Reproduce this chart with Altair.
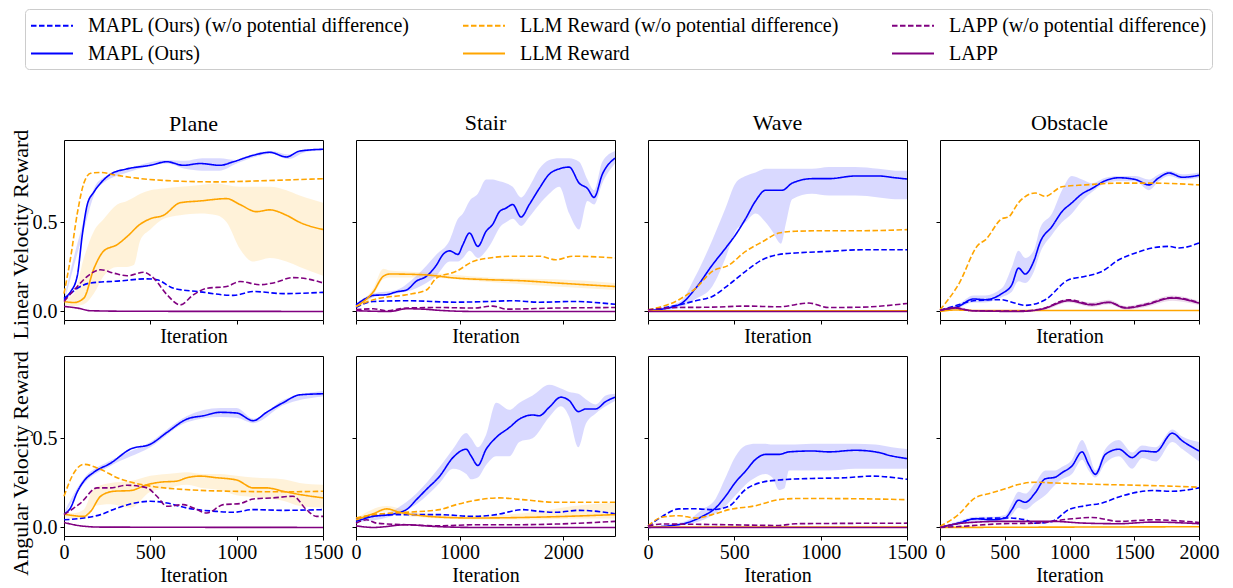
import altair as alt
import pandas as pd

SERIF = "Liberation Serif"

S_MAPLW = "MAPL (Ours) (w/o potential difference)"
S_LLMW = "LLM Reward (w/o potential difference)"
S_LAPPW = "LAPP (w/o potential difference)"
S_MAPL = "MAPL (Ours)"
S_LLM = "LLM Reward"
S_LAPP = "LAPP"
# legend fills column by column (2 rows x 3 columns)
SERIES = [S_MAPLW, S_MAPL, S_LLMW, S_LLM, S_LAPPW, S_LAPP]
COLORS = ["#0000ff", "#0000ff", "#ffa500", "#ffa500", "#800080", "#800080"]
DASHES = [[5.5, 2.5], [1, 0], [5.5, 2.5], [1, 0], [5.5, 2.5], [1, 0]]
BAND_COLOR = {S_MAPL: "#0000ff", S_LLM: "#ffa500", S_LAPP: "#800080"}

ENVS = ["Plane", "Stair", "Wave", "Obstacle"]
X_MAX = {"Plane": 1500, "Stair": 2500, "Wave": 1500, "Obstacle": 2000}
X_TICKS = {"Plane": [0, 500, 1000, 1500], "Stair": [0, 1000, 2000],
           "Wave": [0, 500, 1000, 1500], "Obstacle": [0, 500, 1000, 1500, 2000]}
Y_TICKS = [0.0, 0.5]
ROW_TITLES = ["Linear Velocity Reward", "Angular Velocity Reward"]

# ---------------- Linear velocity reward (top row) ----------------
LIN_PLANE_MAPL = [(0, .075), (38, .11), (77, .20), (106, .43), (135, .60), (173, .67), (212, .72), (269, .77),
                  (365, .80), (500, .82), (596, .84), (692, .82), (788, .83), (904, .82), (981, .84),
                  (1096, .876), (1192, .893), (1288, .867), (1365, .90), (1500, .91)]
LIN_PLANE_MAPL_BAND = [(0, .05, .07), (100, .40, .46), (200, .70, .73), (400, .79, .81), (600, .83, .85),
                       (700, .80, .845), (800, .79, .86), (900, .79, .86), (1000, .83, .85),
                       (1100, .865, .885), (1200, .885, .90), (1300, .855, .88), (1400, .895, .91),
                       (1500, .905, .915)]
LIN_PLANE_LLMW = [(0, .10), (38, .30), (77, .55), (115, .72), (154, .775), (212, .78), (300, .765),
                  (404, .75), (596, .734), (885, .727), (1173, .734), (1500, .745)]
LIN_PLANE_LLM = [(0, .056), (58, .05), (115, .075), (173, .24), (231, .34), (308, .375), (365, .42),
                 (442, .49), (500, .52), (577, .54), (673, .61), (788, .62), (942, .633), (1019, .60),
                 (1115, .56), (1192, .57), (1288, .54), (1365, .50), (1500, .46)]
LIN_PLANE_LLM_BAND = [(0, .04, .07), (58, .03, .10), (115, .04, .30), (173, .10, .45), (231, .20, .52),
                      (308, .25, .60), (365, .25, .62), (404, .26, .64), (442, .40, .66), (500, .46, .68),
                      (577, .52, .69), (673, .54, .70), (788, .55, .71), (885, .54, .72), (942, .50, .71),
                      (1019, .35, .70), (1096, .28, .70), (1192, .30, .70), (1288, .28, .68),
                      (1365, .25, .65), (1500, .20, .61)]
LIN_PLANE_LAPPW = [(0, .056), (77, .14), (135, .197), (212, .234), (288, .215), (365, .20), (462, .22),
                   (519, .187), (596, .094), (673, .037), (750, .094), (827, .13), (942, .14),
                   (1019, .168), (1135, .15), (1212, .16), (1327, .19), (1423, .18), (1500, .16)]
LIN_PLANE_MAPLW = [(0, .066), (77, .13), (154, .16), (308, .17), (481, .183), (538, .178), (635, .13),
                   (788, .11), (981, .09), (1096, .112), (1269, .10), (1500, .107)]
LIN_PLANE_LAPP = [(0, .028), (77, .019), (154, .004), (400, .001), (1500, 0)]

LIN_STAIR_MAPL = [(0, .037), (103, .075), (167, .09), (295, .094), (391, .11), (487, .12), (583, .17),
                  (679, .197), (776, .26), (840, .32), (904, .34), (984, .32), (1032, .375), (1096, .44),
                  (1176, .365), (1256, .45), (1321, .49), (1385, .56), (1449, .58), (1513, .60),
                  (1593, .53), (1673, .60), (1769, .69), (1865, .77), (1962, .80), (2058, .81),
                  (2154, .72), (2234, .69), (2298, .64), (2378, .77), (2500, .86)]
LIN_STAIR_MAPL_BAND = [(0, .03, .045), (167, .08, .10), (391, .10, .12), (583, .13, .20), (776, .20, .32),
                       (904, .28, .40), (984, .28, .52), (1032, .30, .55), (1096, .34, .62),
                       (1176, .30, .66), (1256, .34, .74), (1321, .40, .74), (1385, .47, .73),
                       (1449, .50, .72), (1513, .52, .70), (1593, .48, .64), (1673, .53, .70),
                       (1769, .60, .80), (1865, .66, .85), (1962, .70, .86), (2058, .55, .86),
                       (2154, .46, .84), (2234, .62, .74), (2298, .60, .68), (2378, .72, .84),
                       (2500, .83, .90)]
LIN_STAIR_LLM = [(0, .028), (167, .11), (263, .197), (327, .21), (647, .206), (968, .187), (1288, .178),
                 (1609, .172), (1929, .16), (2500, .14)]
LIN_STAIR_LLM_BAND = [(0, .02, .04), (167, .09, .13), (263, .18, .24), (327, .19, .23), (647, .19, .22),
                      (1288, .165, .19), (1929, .14, .18), (2500, .12, .16)]
LIN_STAIR_LLMW = [(0, .028), (167, .066), (487, .094), (679, .12), (776, .187), (968, .225), (1128, .28),
                  (1288, .30), (1513, .31), (1769, .31), (1929, .29), (2090, .31), (2500, .30)]
LIN_STAIR_MAPLW = [(0, .022), (167, .056), (487, .06), (968, .052), (1288, .056), (1513, .06),
                   (1769, .052), (2090, .056), (2500, .04)]
LIN_STAIR_LAPPW = [(0, .01), (167, .015), (295, .004), (487, .019), (808, .022), (1128, .019),
                   (1321, .03), (1449, .013), (1929, .019), (2500, .022)]
LIN_STAIR_LAPP = [(0, .004), (327, 0), (487, .015), (647, .013), (808, .006), (1128, 0), (2500, 0)]

LIN_WAVE_MAPL = [(0, .004), (179, .037), (276, .13), (372, .26), (449, .355), (507, .43), (565, .52),
                 (623, .62), (681, .68), (777, .68), (835, .72), (950, .745), (1047, .745), (1201, .76),
                 (1336, .76), (1432, .75), (1500, .743)]
LIN_WAVE_MAPL_BAND = [(0, 0, .01), (179, .02, .05), (276, .07, .20), (372, .14, .40), (449, .30, .58),
                      (507, .45, .72), (565, .50, .76), (623, .55, .78), (681, .50, .80), (720, .45, .80),
                      (770, .38, .80), (800, .50, .80), (835, .63, .80), (950, .66, .80), (1047, .65, .81),
                      (1201, .65, .81), (1336, .64, .80), (1432, .63, .79), (1500, .63, .79)]
LIN_WAVE_LLMW = [(0, .009), (179, .066), (276, .13), (372, .225), (468, .26), (565, .337), (661, .39),
                 (758, .44), (854, .45), (1047, .453), (1240, .453), (1500, .459)]
LIN_WAVE_MAPLW = [(0, .006), (179, .037), (276, .06), (372, .084), (468, .15), (565, .225), (661, .29),
                  (758, .32), (854, .328), (1047, .337), (1240, .346), (1500, .346)]
LIN_WAVE_LAPPW = [(0, .009), (179, .022), (372, .024), (565, .03), (758, .026), (931, .047),
                  (1047, .022), (1240, .024), (1500, .045)]
LIN_WAVE_LLM = [(0, .003), (1500, .003)]
LIN_WAVE_LAPP = [(0, 0), (1500, 0)]

LIN_OBST_MAPL = [(0, .004), (142, .028), (258, .07), (348, .066), (477, .10), (555, .15), (606, .243),
                 (658, .21), (723, .28), (774, .39), (865, .477), (942, .56), (1019, .61), (1097, .66),
                 (1174, .69), (1277, .734), (1381, .75), (1510, .74), (1613, .71), (1690, .75),
                 (1768, .777), (1871, .753), (2000, .764)]
LIN_OBST_MAPL_BAND = [(0, 0, .01), (142, .02, .04), (258, .05, .09), (348, .05, .09), (477, .08, .13),
                      (555, .11, .25), (606, .17, .34), (658, .16, .30), (723, .22, .34), (774, .33, .47),
                      (865, .43, .55), (942, .50, .68), (1019, .55, .76), (1097, .62, .74),
                      (1174, .67, .72), (1277, .72, .75), (1381, .73, .76), (1510, .73, .76),
                      (1613, .68, .74), (1690, .73, .77), (1768, .76, .79), (1871, .74, .77),
                      (2000, .75, .78)]
LIN_OBST_LLMW = [(0, .009), (142, .15), (297, .375), (348, .40), (477, .52), (529, .53), (606, .61),
                 (735, .665), (813, .646), (942, .70), (1123, .71), (1381, .72), (1639, .72), (2000, .71)]
LIN_OBST_MAPLW = [(0, .006), (142, .037), (258, .06), (477, .066), (555, .052), (658, .034), (813, .066),
                  (994, .178), (1123, .197), (1252, .225), (1381, .29), (1510, .328), (1639, .356),
                  (1768, .365), (1845, .356), (2000, .384)]
LIN_OBST_LAPP = [(0, .006), (116, .019), (245, .004), (606, 0), (787, .013), (994, .06), (1174, .037),
                 (1303, .052), (1432, .019), (1587, .037), (1794, .075), (2000, .047)]
LIN_OBST_LAPP_BAND = [(0, 0, .01), (116, .01, .03), (245, 0, .01), (606, 0, .005), (787, .005, .02),
                      (994, .05, .07), (1174, .025, .05), (1303, .04, .065), (1432, .01, .03),
                      (1587, .025, .05), (1794, .06, .09), (2000, .035, .06)]
LIN_OBST_LAPPW = [(0, .006), (116, .02), (245, .004), (606, .002), (787, .015), (994, .066), (1174, .04),
                  (1303, .05), (1432, .022), (1587, .04), (1794, .078), (2000, .05)]
LIN_OBST_LLM = [(0, 0), (116, .008), (300, .005), (2000, .005)]

# ---------------- Angular velocity reward (bottom row) ----------------
ANG_PLANE_MAPL = [(0, .075), (38, .11), (77, .20), (115, .26), (173, .31), (269, .36), (385, .44),
                  (500, .467), (596, .533), (712, .608), (808, .627), (904, .646), (1000, .642),
                  (1096, .599), (1173, .646), (1269, .70), (1365, .744), (1500, .75)]
ANG_PLANE_MAPL_BAND = [(0, .065, .085), (115, .245, .275), (269, .345, .375), (500, .45, .48),
                       (712, .59, .625), (904, .62, .67), (1000, .615, .67), (1096, .585, .61),
                       (1269, .685, .715), (1500, .735, .765)]
ANG_PLANE_LLMW = [(0, .175), (58, .307), (115, .354), (212, .326), (308, .279), (404, .25), (500, .232),
                  (692, .213), (981, .203), (1269, .20), (1500, .203)]
ANG_PLANE_LLM = [(0, .075), (115, .062), (154, .09), (212, .175), (288, .203), (385, .207), (481, .24),
                 (558, .254), (654, .26), (712, .279), (788, .288), (885, .279), (1000, .266),
                 (1096, .222), (1173, .222), (1269, .203), (1365, .185), (1500, .166)]
ANG_PLANE_LLM_BAND = [(0, .06, .09), (58, .05, .08), (115, .05, .10), (173, .12, .22), (269, .13, .25),
                      (385, .11, .26), (500, .20, .29), (596, .22, .30), (712, .24, .31), (808, .22, .30),
                      (904, .21, .30), (1000, .18, .29), (1096, .17, .28), (1269, .15, .27),
                      (1365, .12, .25), (1500, .11, .24)]
ANG_PLANE_LAPPW = [(0, .072), (96, .137), (192, .222), (269, .222), (365, .237), (481, .222), (538, .175),
                   (596, .119), (692, .128), (750, .109), (827, .081), (923, .128), (1019, .134),
                   (1096, .16), (1212, .166), (1327, .175), (1404, .10), (1462, .062), (1500, .062)]
ANG_PLANE_MAPLW = [(0, .043), (115, .053), (212, .072), (308, .109), (500, .147), (596, .137), (712, .109),
                   (885, .09), (981, .085), (1096, .10), (1269, .096), (1500, .10)]
ANG_PLANE_LAPP = [(0, .028), (96, .009), (212, .002), (1500, 0)]

ANG_STAIR_MAPL = [(0, .034), (167, .062), (327, .072), (487, .10), (583, .156), (679, .213), (808, .288),
                  (936, .392), (1064, .439), (1112, .40), (1176, .348), (1256, .439), (1353, .505),
                  (1481, .561), (1577, .608), (1705, .631), (1769, .627), (1865, .674), (1978, .731),
                  (2058, .712), (2147, .65), (2218, .665), (2314, .665), (2410, .706), (2500, .731)]
ANG_STAIR_MAPL_BAND = [(0, .03, .04), (327, .06, .085), (583, .13, .19), (808, .25, .34), (936, .33, .44),
                       (1064, .30, .53), (1112, .27, .50), (1176, .28, .45), (1256, .35, .52),
                       (1353, .40, .70), (1481, .40, .66), (1577, .48, .70), (1705, .50, .74),
                       (1865, .62, .80), (1978, .68, .78), (2058, .62, .76), (2147, .45, .75),
                       (2218, .58, .72), (2314, .64, .69), (2410, .68, .74), (2500, .71, .75)]
ANG_STAIR_LLMW = [(0, .053), (167, .072), (487, .085), (808, .10), (968, .128), (1192, .156), (1385, .166),
                  (1609, .156), (1929, .141), (2500, .141)]
ANG_STAIR_LLM = [(0, .043), (167, .077), (295, .104), (423, .085), (551, .072), (808, .058), (1128, .053),
                 (1769, .058), (2500, .072)]
ANG_STAIR_LLM_BAND = [(0, .035, .05), (295, .09, .12), (551, .06, .085), (1128, .045, .065),
                      (1769, .045, .09), (2100, .05, .12), (2500, .05, .14)]
ANG_STAIR_MAPLW = [(0, .047), (167, .066), (423, .072), (808, .072), (1128, .062), (1353, .072),
                   (1609, .10), (1769, .09), (1929, .085), (2154, .096), (2500, .077)]
ANG_STAIR_LAPPW = [(0, .024), (103, .043), (199, .024), (487, .015), (808, .009), (1128, .015),
                   (1449, .015), (1929, .019), (2500, .034)]
ANG_STAIR_LAPP = [(0, .009), (167, 0), (487, .015), (744, .006), (1128, 0), (2500, 0)]

ANG_WAVE_MAPL = [(0, 0), (121, .009), (218, .024), (314, .062), (391, .109), (449, .175), (507, .254),
                 (565, .316), (623, .382), (681, .41), (758, .41), (816, .424), (950, .429), (1047, .424),
                 (1201, .433), (1317, .424), (1413, .401), (1500, .386)]
ANG_WAVE_MAPL_BAND = [(0, 0, .005), (218, .015, .035), (314, .04, .10), (391, .08, .16), (449, .12, .28),
                      (507, .18, .40), (565, .24, .46), (623, .28, .47), (681, .30, .47), (720, .28, .465),
                      (758, .21, .465), (790, .22, .465), (816, .32, .465), (950, .32, .47),
                      (1047, .32, .47), (1201, .33, .47), (1317, .33, .465), (1413, .33, .45),
                      (1500, .33, .44)]
ANG_WAVE_MAPLW = [(0, .006), (83, .062), (179, .104), (276, .105), (372, .10), (468, .119), (565, .213),
                  (661, .254), (758, .266), (950, .275), (1143, .279), (1297, .288), (1500, .27)]
ANG_WAVE_LLMW = [(0, .009), (83, .058), (179, .066), (276, .053), (372, .072), (468, .10), (623, .122),
                 (758, .156), (854, .162), (1047, .162), (1500, .156)]
ANG_WAVE_LAPPW = [(0, .009), (83, .019), (468, .015), (758, .011), (854, .021), (1500, .024)]
ANG_WAVE_LLM = [(0, .002), (1500, .002)]
ANG_WAVE_LAPP = [(0, 0), (1500, 0)]

ANG_OBST_MAPL = [(0, 0), (142, .024), (271, .049), (400, .043), (503, .053), (555, .10), (606, .153),
                 (658, .141), (735, .194), (813, .273), (890, .282), (942, .307), (1019, .345),
                 (1097, .424), (1148, .354), (1200, .298), (1277, .41), (1381, .439), (1484, .392),
                 (1561, .429), (1665, .424), (1794, .529), (1871, .486), (2000, .429)]
ANG_OBST_MAPL_BAND = [(0, 0, .005), (142, .015, .035), (271, .035, .06), (400, .03, .06), (503, .04, .07),
                      (555, .07, .14), (606, .11, .20), (658, .10, .19), (735, .14, .25), (813, .18, .32),
                      (890, .24, .32), (942, .27, .34), (1019, .30, .38), (1097, .38, .49),
                      (1148, .32, .42), (1200, .28, .32), (1277, .36, .44), (1381, .40, .49),
                      (1484, .33, .42), (1561, .39, .46), (1665, .37, .45), (1794, .48, .55),
                      (1871, .44, .51), (2000, .37, .48)]
ANG_OBST_LLMW = [(0, .006), (142, .072), (271, .166), (400, .194), (503, .217), (606, .241), (735, .254),
                 (865, .25), (994, .247), (1252, .241), (1510, .237), (1768, .232), (2000, .226)]
ANG_OBST_MAPLW = [(0, 0), (142, .024), (271, .049), (529, .053), (658, .043), (735, .024), (865, .034),
                  (994, .10), (1123, .122), (1252, .137), (1381, .171), (1639, .207), (1794, .203),
                  (2000, .222)]
ANG_OBST_LAPPW = [(0, 0), (142, .005), (477, .021), (735, .024), (994, .047), (1174, .056), (1381, .034),
                  (1639, .043), (2000, .028)]
ANG_OBST_LAPP = [(0, 0), (168, .024), (477, .034), (865, .034), (1123, .024), (1381, .021), (1639, .03),
                 (2000, .021)]
ANG_OBST_LLM = [(0, 0), (2000, .004)]

PANELS = [
    ("lin", "Plane", {S_MAPLW: LIN_PLANE_MAPLW, S_LLMW: LIN_PLANE_LLMW, S_LAPPW: LIN_PLANE_LAPPW,
                      S_MAPL: LIN_PLANE_MAPL, S_LLM: LIN_PLANE_LLM, S_LAPP: LIN_PLANE_LAPP},
     {S_MAPL: LIN_PLANE_MAPL_BAND, S_LLM: LIN_PLANE_LLM_BAND}),
    ("lin", "Stair", {S_MAPLW: LIN_STAIR_MAPLW, S_LLMW: LIN_STAIR_LLMW, S_LAPPW: LIN_STAIR_LAPPW,
                      S_MAPL: LIN_STAIR_MAPL, S_LLM: LIN_STAIR_LLM, S_LAPP: LIN_STAIR_LAPP},
     {S_MAPL: LIN_STAIR_MAPL_BAND, S_LLM: LIN_STAIR_LLM_BAND}),
    ("lin", "Wave", {S_MAPLW: LIN_WAVE_MAPLW, S_LLMW: LIN_WAVE_LLMW, S_LAPPW: LIN_WAVE_LAPPW,
                     S_MAPL: LIN_WAVE_MAPL, S_LLM: LIN_WAVE_LLM, S_LAPP: LIN_WAVE_LAPP},
     {S_MAPL: LIN_WAVE_MAPL_BAND}),
    ("lin", "Obstacle", {S_MAPLW: LIN_OBST_MAPLW, S_LLMW: LIN_OBST_LLMW, S_LAPPW: LIN_OBST_LAPPW,
                         S_MAPL: LIN_OBST_MAPL, S_LLM: LIN_OBST_LLM, S_LAPP: LIN_OBST_LAPP},
     {S_MAPL: LIN_OBST_MAPL_BAND, S_LAPP: LIN_OBST_LAPP_BAND}),
    ("ang", "Plane", {S_MAPLW: ANG_PLANE_MAPLW, S_LLMW: ANG_PLANE_LLMW, S_LAPPW: ANG_PLANE_LAPPW,
                      S_MAPL: ANG_PLANE_MAPL, S_LLM: ANG_PLANE_LLM, S_LAPP: ANG_PLANE_LAPP},
     {S_MAPL: ANG_PLANE_MAPL_BAND, S_LLM: ANG_PLANE_LLM_BAND}),
    ("ang", "Stair", {S_MAPLW: ANG_STAIR_MAPLW, S_LLMW: ANG_STAIR_LLMW, S_LAPPW: ANG_STAIR_LAPPW,
                      S_MAPL: ANG_STAIR_MAPL, S_LLM: ANG_STAIR_LLM, S_LAPP: ANG_STAIR_LAPP},
     {S_MAPL: ANG_STAIR_MAPL_BAND, S_LLM: ANG_STAIR_LLM_BAND}),
    ("ang", "Wave", {S_MAPLW: ANG_WAVE_MAPLW, S_LLMW: ANG_WAVE_LLMW, S_LAPPW: ANG_WAVE_LAPPW,
                     S_MAPL: ANG_WAVE_MAPL, S_LLM: ANG_WAVE_LLM, S_LAPP: ANG_WAVE_LAPP},
     {S_MAPL: ANG_WAVE_MAPL_BAND}),
    ("ang", "Obstacle", {S_MAPLW: ANG_OBST_MAPLW, S_LLMW: ANG_OBST_LLMW, S_LAPPW: ANG_OBST_LAPPW,
                         S_MAPL: ANG_OBST_MAPL, S_LLM: ANG_OBST_LLM, S_LAPP: ANG_OBST_LAPP},
     {S_MAPL: ANG_OBST_MAPL_BAND}),
]

PANEL_W, PANEL_H = 259, 180
Y_DOMAIN = [-0.048, 0.962]
LEGEND = dict(title=None, orient="none", legendX=-39, legendY=-131, columns=3)


def make_panel(row, env, lines, bands):
    first = env == "Plane"
    bottom = row == "ang"
    lrows = []
    for s in SERIES:
        for x, y in lines[s]:
            lrows.append({"x": x, "y": y, "series": s})
    ldf = pd.DataFrame(lrows)
    brows = []
    for s, pts in bands.items():
        for x, lo, hi in pts:
            brows.append({"x": x, "lo": lo, "hi": hi, "series": s, "bcolor": BAND_COLOR[s]})
    bdf = pd.DataFrame(brows)

    xscale = alt.Scale(domain=[0, X_MAX[env]], nice=False, zero=False)
    yscale = alt.Scale(domain=Y_DOMAIN, nice=False, zero=False)
    xaxis = alt.Axis(values=X_TICKS[env], labels=bottom, title="Iteration", format="d",
                     labelFlush=False, labelOverlap=False, titlePadding=2 if not bottom else 3)
    yaxis_kw = dict(values=Y_TICKS, labels=first, format=".1f", labelPadding=3)
    if first:
        yaxis_kw["title"] = ROW_TITLES[0 if row == "lin" else 1]
        yaxis_kw["titleY"] = 94 if row == "lin" else 107
        yaxis_kw["titlePadding"] = 0
        yaxis_kw["titleFontSize"] = 22
    else:
        yaxis_kw["title"] = None
    yaxis = alt.Axis(**yaxis_kw)

    band = alt.Chart(bdf).mark_area(opacity=0.15, interpolate="monotone").encode(
        x=alt.X("x:Q", scale=xscale, axis=xaxis),
        y=alt.Y("lo:Q", scale=yscale, axis=yaxis),
        y2="hi:Q",
        fill=alt.Fill("bcolor:N", scale=None),
        detail="series:N",
    )
    line = alt.Chart(ldf).mark_line(strokeWidth=1.6, interpolate="monotone").encode(
        x=alt.X("x:Q", scale=xscale, axis=xaxis),
        y=alt.Y("y:Q", scale=yscale, axis=yaxis),
        color=alt.Color("series:N", scale=alt.Scale(domain=SERIES, range=COLORS),
                        legend=alt.Legend(**LEGEND)),
        strokeDash=alt.StrokeDash("series:N", scale=alt.Scale(domain=SERIES, range=DASHES),
                                  legend=alt.Legend(**LEGEND)),
    )
    props = dict(width=PANEL_W, height=PANEL_H)
    if row == "lin":
        # the rotated y-axis title of the first panel reaches above the frame; compensate
        props["title"] = alt.TitleParams(env, font=SERIF, fontSize=22, fontWeight="normal",
                                         color="black", offset=5, frame="group", anchor="middle",
                                         dy=12 if first else 0)
    return alt.layer(band, line).properties(**props)


panels = [make_panel(*p) for p in PANELS]

chart = alt.concat(*panels, columns=4, spacing={"row": 36, "column": 33}, bounds="flush").resolve_scale(
    color="shared", strokeDash="shared"
).configure(padding=0).configure_view(
    stroke="black", strokeWidth=1
).configure_axis(
    domain=False, grid=False, tickColor="black", tickSize=4, tickWidth=1,
    labelFont=SERIF, labelFontSize=20, labelColor="black",
    titleFont=SERIF, titleFontSize=20, titleFontWeight="normal", titleColor="black",
).configure_legend(
    symbolType="M-1,0H3", symbolSize=441, symbolStrokeWidth=2,
    labelFont=SERIF, labelFontSize=20, labelColor="black", labelLimit=0, labelOffset=35,
    columnPadding=49, rowPadding=6, padding=5, strokeColor="#cccccc", fillColor="white",
    cornerRadius=4,
)

chart.save("out.html", embed_options={"renderer": "svg", "actions": False})
